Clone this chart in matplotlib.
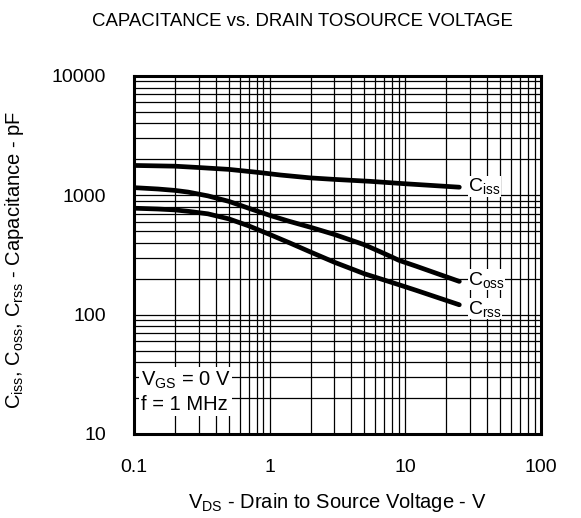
import matplotlib
matplotlib.use('Agg')
import matplotlib.pyplot as plt
from matplotlib.ticker import LogLocator, NullFormatter

plt.rcParams['font.family'] = ['Liberation Sans', 'DejaVu Sans']
plt.rcParams['mathtext.fontset'] = 'custom'
plt.rcParams['mathtext.rm'] = 'Liberation Sans'
plt.rcParams['mathtext.it'] = 'Liberation Sans'
plt.rcParams['mathtext.default'] = 'regular'

# Data (V in volts, C in pF)
vds_ciss = [0.1, 0.2, 0.3, 0.5, 0.85, 1.2, 2, 3, 5.5, 10, 25]
ciss = [1780, 1755, 1710, 1650, 1550, 1480, 1400, 1360, 1310, 1250, 1170]

vds_coss = [0.1, 0.15, 0.2, 0.25, 0.35, 0.5, 0.7, 1, 1.4, 2, 3, 5, 7, 9, 12, 25]
coss = [1160, 1130, 1100, 1065, 990, 890, 780, 680, 605, 540, 470, 385, 325, 285, 255, 190]

vds_crss = [0.1, 0.15, 0.2, 0.25, 0.35, 0.5, 0.7, 1, 1.4, 2, 3, 5, 7, 9, 12, 25]
crss = [780, 768, 755, 735, 700, 635, 555, 470, 400, 335, 275, 220, 195, 178, 160, 121]

x_ticks = [0.1, 1, 10, 100]
x_tick_labels = ['0.1', '1', '10', '100']
y_ticks = [10, 100, 1000, 10000]
y_tick_labels = ['10', '100', '1000', '10000']

fig = plt.figure(figsize=(5.81, 5.18), dpi=100)
ax = fig.add_axes([134 / 581, 1 - 434 / 518, 407 / 581, 358 / 518])
ax.set_xscale('log')
ax.set_yscale('log')
ax.set_xlim(0.1, 100)
ax.set_ylim(10, 10000)

# grid
ax.xaxis.set_minor_locator(LogLocator(base=10, subs=range(2, 10)))
ax.yaxis.set_minor_locator(LogLocator(base=10, subs=range(2, 10)))
ax.xaxis.set_minor_formatter(NullFormatter())
ax.yaxis.set_minor_formatter(NullFormatter())
ax.grid(True, which='both', color='black', linewidth=0.9, zorder=1)
ax.tick_params(which='both', length=0, labelsize=14, colors='black')
ax.tick_params(axis='x', pad=18)
ax.tick_params(axis='y', pad=20)
ax.set_axisbelow(True)

ax.set_xticks(x_ticks)
ax.set_xticklabels(x_tick_labels)
ax.set_yticks(y_ticks)
ax.set_yticklabels(y_tick_labels)

for s in ax.spines.values():
    s.set_linewidth(2.2)
    s.set_zorder(5)

# curves
for v, c in [(vds_ciss, ciss), (vds_coss, coss), (vds_crss, crss)]:
    ax.plot(v, c, color='black', linewidth=3.4, solid_capstyle='round',
            solid_joinstyle='round', zorder=3)

lbl = dict(fontsize=14, ha='left', va='center', zorder=4,
           bbox=dict(facecolor='white', edgecolor='none', pad=0.3))
ax.text(29, 1190, 'C$_{iss}$', **lbl)
ax.text(29, 196, 'C$_{oss}$', **lbl)
ax.text(29, 112, 'C$_{rss}$', **lbl)

ax.text(0.112, 22.5, 'V$_{GS}$ = 0 V\nf = 1 MHz', fontsize=14.5, ha='left', va='center',
        linespacing=1.3, zorder=4,
        bbox=dict(facecolor='white', edgecolor='none', pad=1.0))

fig.text(302 / 581, 1 - 21 / 518, 'CAPACITANCE vs. DRAIN TOSOURCE VOLTAGE',
         fontsize=13.4, ha='center', va='center')
fig.text(337 / 581, 1 - 503 / 518, 'V$_{DS}$ - Drain to Source Voltage - V',
         fontsize=14.5, ha='center', va='center')
fig.text(15 / 581, 1 - 260 / 518, 'C$_{iss}$, C$_{oss}$, C$_{rss}$ - Capacitance - pF',
         fontsize=14.5, ha='center', va='center', rotation=90)

fig.savefig('out.png', dpi=100, facecolor='white')
